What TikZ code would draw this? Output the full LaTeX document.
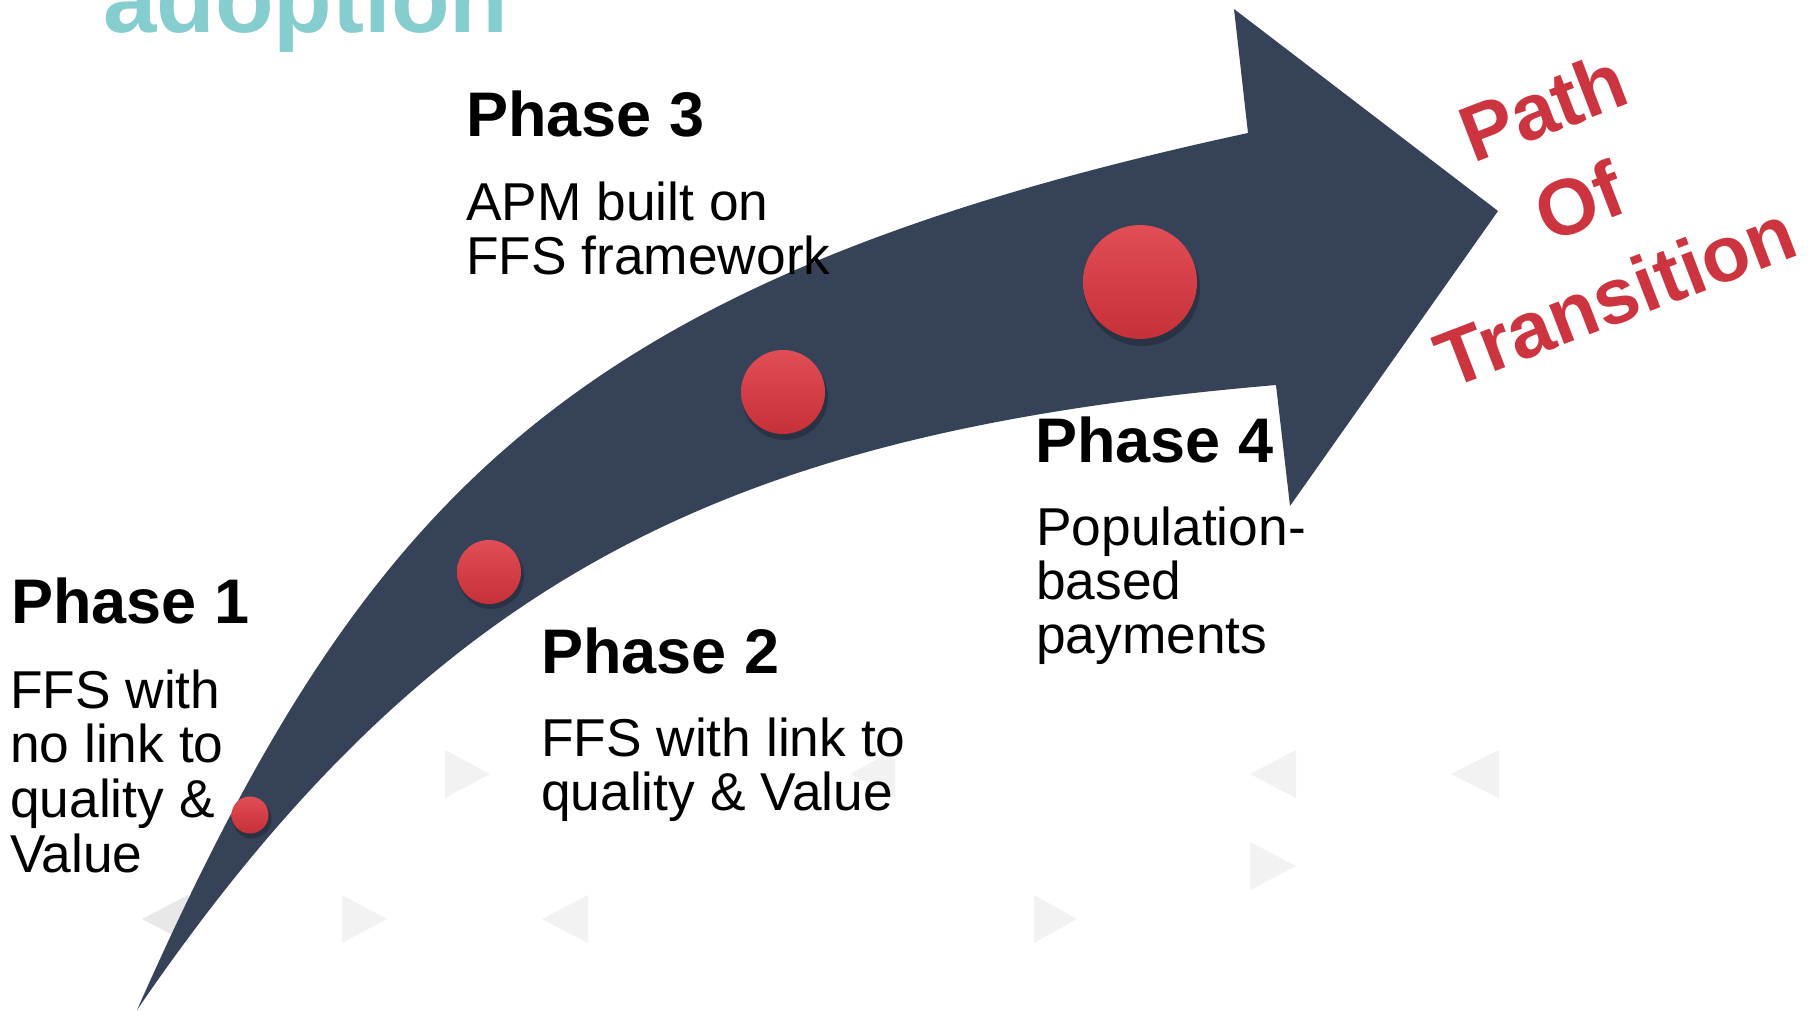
\documentclass[tikz,border=0pt]{standalone}
\usepackage{fontspec}
\setmainfont{Liberation Sans}
\definecolor{arrowslate}{RGB}{54,66,87}
\definecolor{adopteal}{RGB}{134,205,208}
\definecolor{pathred}{RGB}{204,53,63}
\definecolor{beadred}{RGB}{203,52,60}
\definecolor{beaddark}{RGB}{198,48,56}
\definecolor{beadhi}{RGB}{226,78,86}
\definecolor{bgtri}{RGB}{242,242,242}
\definecolor{bgtridark}{RGB}{232,232,232}
\begin{document}
\begin{tikzpicture}[x=1pt,y=-1pt,
  phase/.style={font=\fontsize{63}{68}\selectfont\bfseries, inner sep=0pt, anchor=base west},
  desc/.style={font=\fontsize{53.3}{54}\selectfont, inner sep=0pt, anchor=base west},
  bead/.style={circle, inner sep=0pt, minimum size=#1, top color=beadhi, middle color=beadred, bottom color=beaddark},
  beadshadow/.style={fill=black, opacity=0.22}]
\useasboundingbox (0,0) rectangle (1817,1011);
\clip (0,0) rectangle (1817,1011);
\fill[white] (0,0) rectangle (1817,1011);

% faint background triangles
\fill[bgtri] (445,750) -- (490,774) -- (445,798) -- cycle;
\fill[bgtri] (895,750) -- (850,774) -- (895,798) -- cycle;
\fill[bgtri] (1296,750) -- (1250,774) -- (1296,798) -- cycle;
\fill[bgtri] (1499,750) -- (1451,774) -- (1499,798) -- cycle;
\fill[bgtri] (1250,842) -- (1296,866) -- (1250,890) -- cycle;
\fill[bgtridark] (188,895) -- (142,919) -- (188,943) -- cycle;
\fill[bgtri] (342,895) -- (387,919) -- (342,943) -- cycle;
\fill[bgtri] (588,895) -- (542,919) -- (588,943) -- cycle;
\fill[bgtri] (1034,895) -- (1077,919) -- (1034,943) -- cycle;

% curved arrow: outer edge, head, inner edge
\fill[arrowslate] (137,1010)
  .. controls (363,501) and (562,281) .. (1248,133)
  -- (1234,9) -- (1498,211) -- (1290,506) -- (1276,385)
  .. controls (742,431) and (441,565) .. (137,1010)
  -- cycle;

% beads along the arrow
\fill[beadshadow] (252,819) circle (19.5);
\fill[beadshadow] (491,576) circle (33);
\fill[beadshadow] (785,397) circle (43);
\fill[beadshadow] (1142,288) circle (58);
\node[bead=37pt]  (b1) at (250,815) {};
\node[bead=64pt]  (b2) at (489,572) {};
\node[bead=84pt]  (b3) at (783,392) {};
\node[bead=114pt] (b4) at (1140,282) {};

% title fragment
\node[font=\fontsize{96}{100}\selectfont\bfseries, text=adopteal, inner sep=0pt, anchor=base west] (ttl) at (103,33) {adoption};

% phases
\node[phase] (p1) at (11,623) {Phase 1};
\node[desc] (d1) at (10,708) {\begin{tabular}[t]{@{}l@{}}FFS with\\no link to\\quality \&\\Value\end{tabular}};

\node[phase] (p2) at (541,673) {Phase 2};
\node[desc] (d2) at (541,756) {\begin{tabular}[t]{@{}l@{}}FFS with link to\\quality \& Value\end{tabular}};

\node[phase] (p3) at (466,137) {Phase 3};
\node[desc] (d3) at (466,220) {\begin{tabular}[t]{@{}l@{}}APM built on\\FFS framework\end{tabular}};

\node[phase] (p4) at (1035,462) {Phase 4};
\node[desc] (d4) at (1036,545) {\begin{tabular}[t]{@{}l@{}}Population-\\based\\payments\end{tabular}};

% slanted caption
\node[font=\fontsize{79}{101}\selectfont\bfseries, text=pathred, inner sep=0pt, rotate=21, anchor=base] (pot) at (1553,133) {\begin{tabular}[t]{@{}c@{}}Path\\Of\\Transition\end{tabular}};
\end{tikzpicture}
\end{document}
